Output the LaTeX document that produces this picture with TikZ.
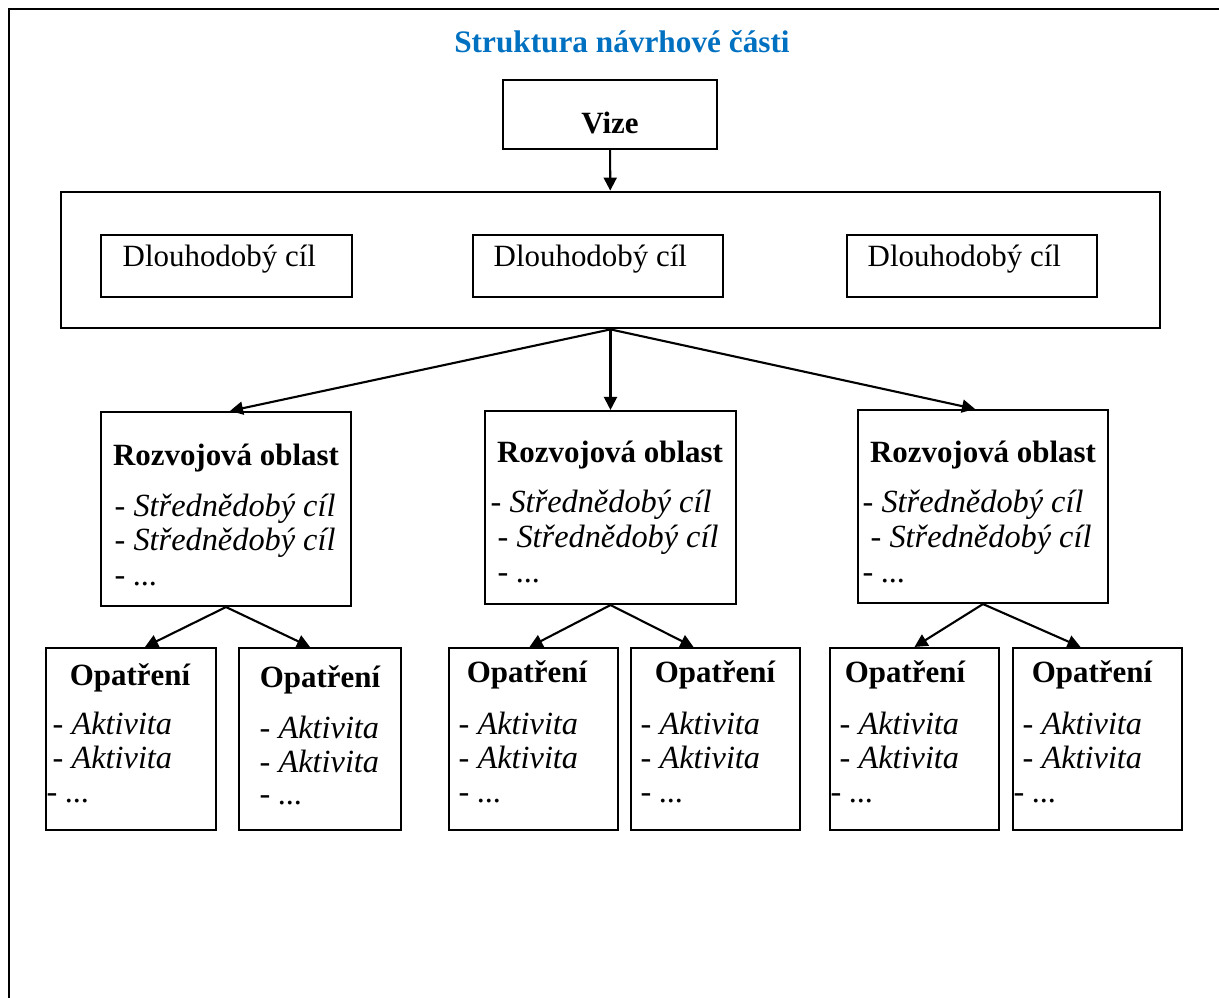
\documentclass[tikz,border=0pt]{standalone}
\usepackage{fontspec}
\setmainfont{Liberation Serif}
\usepackage{tikz}
\usetikzlibrary{arrows.meta,positioning}
\definecolor{titleBlue}{RGB}{0,112,192}

\begin{document}
\begin{tikzpicture}[
    x=0.1mm, y=-0.1mm, >={Triangle[length=1.3mm,width=1.3mm]},
    box/.style={draw, line width=0.6pt, inner sep=0pt},
    head/.style={font=\fontsize{8.8}{10}\selectfont\bfseries, inner sep=0pt, anchor=base},
    goal/.style={font=\fontsize{8.8}{10}\selectfont, inner sep=0pt, anchor=base west},
    item/.style={font=\fontsize{9.2}{10}\selectfont, inner sep=0pt, anchor=base west},
    conn/.style={->, line width=0.6pt}
  ]
  \useasboundingbox (0,0) rectangle (1219,998);
  % Frame (top and left edge)
  \draw[line width=0.7pt] (9,998) -- (9,9) -- (1219,9);
  % Title
  \node[font=\fontsize{8.9}{10}\selectfont\bfseries, text=titleBlue, inner sep=0pt]
    (title) at (622,42) {Struktura návrhové části};
  % Vision
  \node[box, minimum width=21.4mm, minimum height=6.9mm] (vize) at (610,114.5) {};
  \node[head] (vizeT) at (610,134) {Vize};
  % Long-term goals
  \node[box, line width=0.8pt, minimum width=109.9mm, minimum height=13.6mm] (goals) at (610.5,260) {};
  \node[box, minimum width=25.1mm, minimum height=6.2mm] (g1) at (226.5,266) {};
  \node[box, minimum width=25.0mm, minimum height=6.2mm] (g2) at (598,266) {};
  \node[box, minimum width=25.0mm, minimum height=6.2mm] (g3) at (972,266) {};
  \node[goal] (g1T) at (122,267) {Dlouhodobý cíl};
  \node[goal] (g2T) at (493,267) {Dlouhodobý cíl};
  \node[goal] (g3T) at (867,267) {Dlouhodobý cíl};
  \draw[conn] (vize) -- (goals);
  % Development areas
  \node[box, minimum width=25.0mm, minimum height=19.4mm] (r1) at (226,509) {};
  \node[box, minimum width=25.1mm, minimum height=19.3mm] (r2) at (610.5,507.5) {};
  \node[box, minimum width=25.0mm, minimum height=19.3mm] (r3) at (983,506.5) {};
  \node[head] (r1H) at (226,466) {Rozvojová oblast};
  \node[item] (r1a) at (114,517) {- \textit{Střednědobý cíl}};
  \node[item] (r1b) at (114,551) {- \textit{Střednědobý cíl}};
  \node[item] (r1c) at (114,586) {- \textit{...}};
  \node[head] (r2H) at (610,463) {Rozvojová oblast};
  \node[item] (r2a) at (490,513) {- \textit{Střednědobý cíl}};
  \node[item] (r2b) at (497,548) {- \textit{Střednědobý cíl}};
  \node[item] (r2c) at (497,583) {- \textit{...}};
  \node[head] (r3H) at (983,463) {Rozvojová oblast};
  \node[item] (r3a) at (862,513) {- \textit{Střednědobý cíl}};
  \node[item] (r3b) at (870,548) {- \textit{Střednědobý cíl}};
  \node[item] (r3c) at (862,583) {- \textit{...}};
  \draw[conn] (goals.south) -- ([xshift=0.4mm]r1.north);
  \draw[conn] (goals.south) -- (r2.north);
  \draw[conn] (goals.south) -- ([xshift=-0.8mm]r3.north);
  % Measures
  \node[box, minimum width=17.0mm, minimum height=18.2mm] (oA) at (131,739) {};
  \node[box, minimum width=16.2mm, minimum height=18.2mm] (oB) at (320,739) {};
  \node[box, minimum width=16.9mm, minimum height=18.2mm] (oC) at (533.5,739) {};
  \node[box, minimum width=16.9mm, minimum height=18.2mm] (oD) at (715.5,739) {};
  \node[box, minimum width=16.9mm, minimum height=18.2mm] (oE) at (914.5,739) {};
  \node[box, minimum width=16.9mm, minimum height=18.2mm] (oF) at (1097.5,739) {};
  \node[head] (oAH) at (130,685) {Opatření};
  \node[item] (oAa) at (52,735) {- \textit{Aktivita}};
  \node[item] (oAb) at (52,769) {- \textit{Aktivita}};
  \node[item] (oAc) at (46,802) {- \textit{...}};
  \node[head] (oBH) at (320,687) {Opatření};
  \node[item] (oBa) at (259,738) {- \textit{Aktivita}};
  \node[item] (oBb) at (259,772) {- \textit{Aktivita}};
  \node[item] (oBc) at (259,804) {- \textit{...}};
  \node[head] (oCH) at (527,683) {Opatření};
  \node[item] (oCa) at (458,735) {- \textit{Aktivita}};
  \node[item] (oCb) at (458,769) {- \textit{Aktivita}};
  \node[item] (oCc) at (458,802) {- \textit{...}};
  \node[head] (oDH) at (715,683) {Opatření};
  \node[item] (oDa) at (640,735) {- \textit{Aktivita}};
  \node[item] (oDb) at (640,769) {- \textit{Aktivita}};
  \node[item] (oDc) at (640,802) {- \textit{...}};
  \node[head] (oEH) at (905,683) {Opatření};
  \node[item] (oEa) at (839,735) {- \textit{Aktivita}};
  \node[item] (oEb) at (839,769) {- \textit{Aktivita}};
  \node[item] (oEc) at (830,802) {- \textit{...}};
  \node[head] (oFH) at (1092,683) {Opatření};
  \node[item] (oFa) at (1022,735) {- \textit{Aktivita}};
  \node[item] (oFb) at (1022,769) {- \textit{Aktivita}};
  \node[item] (oFc) at (1013,802) {- \textit{...}};
  \draw[conn] (r1.south) -- ([xshift=1.4mm]oA.north);
  \draw[conn] (r1.south) -- ([xshift=-1.0mm]oB.north);
  \draw[conn] (r2.south) -- ([xshift=-0.4mm]oC.north);
  \draw[conn] (r2.south) -- ([xshift=-2.2mm]oD.north);
  \draw[conn] (r3.south) -- (oE.north);
  \draw[conn] (r3.south) -- ([xshift=-1.7mm]oF.north);
\end{tikzpicture}
\end{document}
